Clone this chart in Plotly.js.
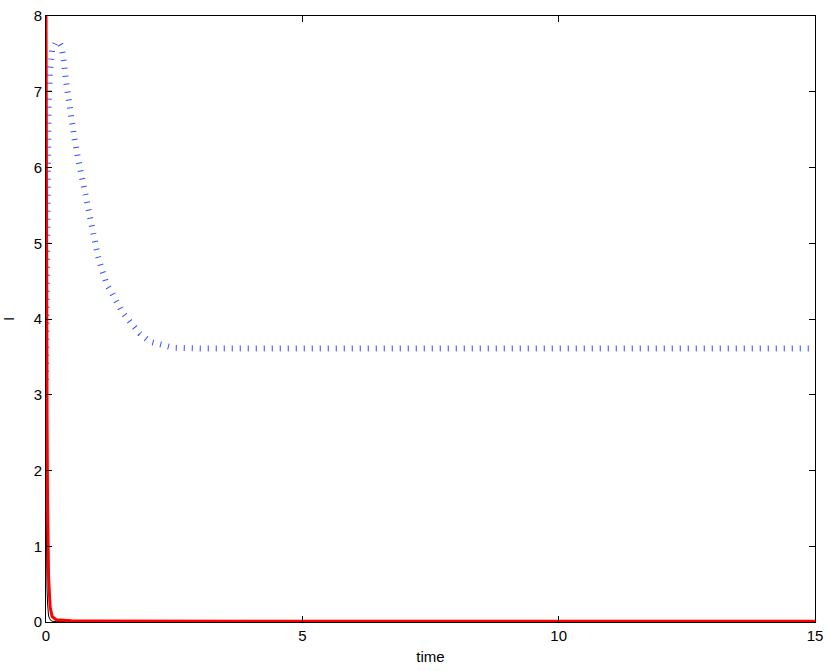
<!DOCTYPE html>
<html>
<head>
<meta charset="utf-8">
<script src="https://cdn.plot.ly/plotly-3.0.1.min.js"></script>
<style>
  html, body { margin: 0; padding: 0; background: #fff; }
  #chart { width: 830px; height: 671px; }
</style>
</head>
<body>
<div id="chart"></div>
<script>
// valores
const blackTime = [0, 0.005, 0.01, 0.02, 0.03, 0.05, 0.08, 0.12, 0.2, 0.5, 1, 3, 15];
const blackI = [1.7, 1.2, 0.85, 0.45, 0.25, 0.08, 0.03, 0.01, 0.005, 0.002, 0.001, 0.001, 0.001];

const blueTime = [0, 0.005, 0.01, 0.02, 0.03, 0.05, 0.08, 0.12, 0.18, 0.25, 0.3, 0.34, 0.39, 0.47,
  0.55, 0.62, 0.74, 0.82, 0.9, 0.96, 1.01, 1.09, 1.19, 1.29, 1.38, 1.5, 1.64, 1.83, 2.03, 2.22,
  2.48, 3, 4, 15];
const blueI = [3.2, 3.8, 4.4, 5.3, 6.0, 6.8, 7.3, 7.55, 7.64, 7.66, 7.6, 7.45, 7.14, 6.73,
  6.4, 6.14, 5.74, 5.44, 5.24, 5.04, 4.84, 4.65, 4.45, 4.34, 4.21, 4.08, 3.96, 3.81, 3.7, 3.66,
  3.62, 3.61, 3.61, 3.61];

const redTime = [0, 0.005, 0.01, 0.02, 0.03, 0.05, 0.08, 0.12, 0.2, 0.5, 1, 2, 5, 10, 15];
const redI = [8.2, 6, 4.5, 2.8, 1.6, 0.6, 0.2, 0.07, 0.03, 0.018, 0.014, 0.012, 0.01, 0.01, 0.01];

const xTicks = [0, 5, 10, 15];
const yTicks = [0, 1, 2, 3, 4, 5, 6, 7, 8];

const traces = [
  {
    x: blackTime, y: blackI, type: 'scatter', mode: 'lines',
    line: { color: '#000', width: 1 }, hoverinfo: 'skip'
  },
  {
    x: blueTime, y: blueI, type: 'scatter', mode: 'lines',
    line: { color: 'rgb(50,80,255)', width: 6, dash: '1px,7px' }, hoverinfo: 'skip'
  },
  {
    x: redTime, y: redI, type: 'scatter', mode: 'lines',
    line: { color: '#ff0000', width: 3 }, hoverinfo: 'skip'
  }
];

// eixos no estilo MATLAB (ticks para dentro, caixa fechada)
const fonte = { family: 'Liberation Sans, Arial, sans-serif', size: 15, color: '#000' };
const eixo = {
  showgrid: false, zeroline: false,
  showline: true, linecolor: '#000', linewidth: 1, mirror: 'ticks',
  ticks: 'inside', ticklen: 6, tickcolor: '#000',
  tickfont: fonte
};

const layout = {
  width: 830, height: 671,
  paper_bgcolor: '#fff', plot_bgcolor: '#fff',
  showlegend: false,
  margin: { l: 46, r: 15, t: 16, b: 49 },
  xaxis: Object.assign({}, eixo, {
    range: [0, 15], tickvals: xTicks,
    title: { text: 'time', standoff: 8, font: fonte }
  }),
  yaxis: Object.assign({}, eixo, {
    range: [0, 8], tickvals: yTicks,
    title: { text: 'I', standoff: 16, font: fonte }
  })
};

Plotly.newPlot('chart', traces, layout, { staticPlot: true });
</script>
</body>
</html>
